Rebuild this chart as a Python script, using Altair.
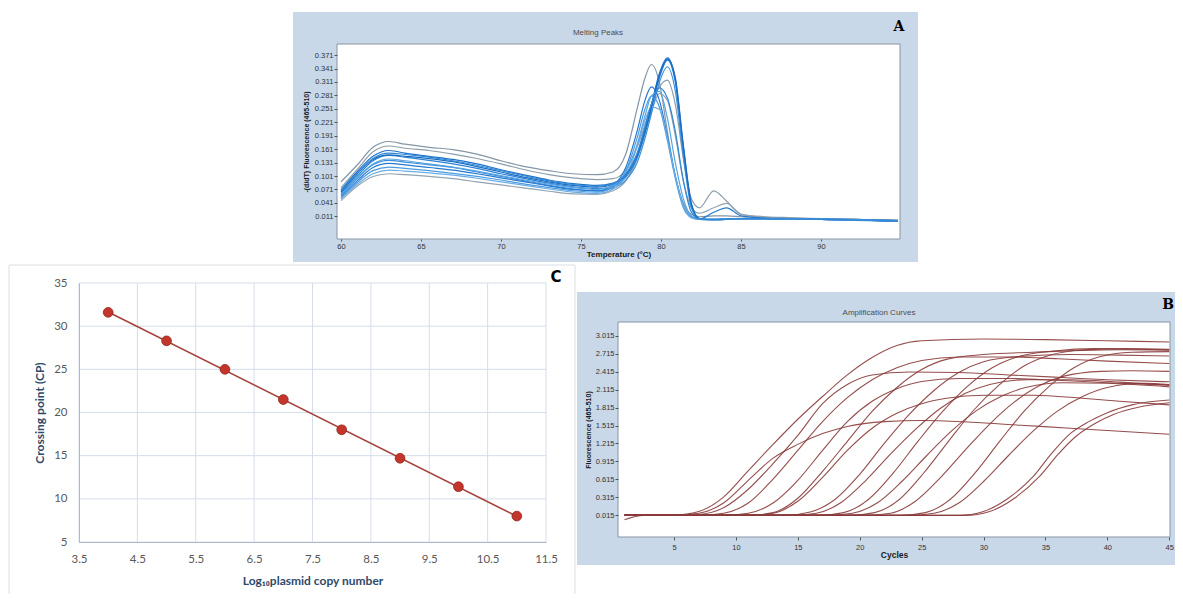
import altair as alt
import pandas as pd

# ---------------- Panel A : melting peaks ----------------
melt_temps = [60, 61, 62, 63, 64, 65.5, 67, 68.5, 70, 71.5, 73, 74.5, 76, 77, 77.8, 78.5,
              79, 79.4, 79.9, 80.4, 80.9, 81.4, 81.9, 82.4, 83.3, 84.1, 85, 86.5, 88, 90, 92, 94.8]
melt_m01 = [0.088, 0.125, 0.165, 0.178, 0.172, 0.165, 0.160, 0.150, 0.135, 0.122, 0.113, 0.106, 0.104, 0.110, 0.150, 0.250, 0.320, 0.350, 0.310, 0.200, 0.100, 0.040, 0.015, 0.010, 0.012, 0.012, 0.010, 0.008, 0.006, 0.005, 0.004, 0.002]
melt_m02 = [0.075, 0.115, 0.155, 0.168, 0.163, 0.158, 0.150, 0.140, 0.128, 0.115, 0.104, 0.097, 0.093, 0.095, 0.115, 0.165, 0.215, 0.260, 0.300, 0.315, 0.260, 0.140, 0.050, 0.030, 0.068, 0.045, 0.015, 0.010, 0.008, 0.006, 0.004, 0.002]
melt_m03 = [0.046, 0.078, 0.100, 0.106, 0.104, 0.100, 0.095, 0.088, 0.081, 0.074, 0.067, 0.061, 0.060, 0.068, 0.090, 0.140, 0.200, 0.245, 0.285, 0.270, 0.190, 0.090, 0.030, 0.018, 0.030, 0.040, 0.016, 0.009, 0.007, 0.005, 0.004, 0.002]
melt_m04 = [0.070, 0.110, 0.145, 0.158, 0.152, 0.145, 0.138, 0.128, 0.115, 0.103, 0.092, 0.084, 0.080, 0.085, 0.105, 0.150, 0.205, 0.260, 0.330, 0.365, 0.320, 0.170, 0.040, 0.006, 0.004, 0.005, 0.006, 0.006, 0.005, 0.004, 0.003, 0.000]
melt_m05 = [0.062, 0.100, 0.135, 0.147, 0.143, 0.136, 0.128, 0.118, 0.106, 0.095, 0.085, 0.077, 0.073, 0.078, 0.098, 0.140, 0.195, 0.250, 0.320, 0.360, 0.310, 0.160, 0.035, 0.005, 0.003, 0.004, 0.006, 0.006, 0.005, 0.004, 0.003, 0.000]
melt_m06 = [0.058, 0.095, 0.126, 0.136, 0.132, 0.126, 0.120, 0.110, 0.100, 0.090, 0.080, 0.072, 0.068, 0.074, 0.092, 0.130, 0.185, 0.240, 0.310, 0.345, 0.290, 0.145, 0.030, 0.004, 0.003, 0.004, 0.005, 0.005, 0.005, 0.004, 0.002, 0.000]
melt_m07 = [0.055, 0.090, 0.120, 0.129, 0.126, 0.120, 0.114, 0.106, 0.097, 0.088, 0.079, 0.071, 0.068, 0.080, 0.120, 0.200, 0.270, 0.300, 0.270, 0.190, 0.100, 0.035, 0.010, 0.005, 0.020, 0.030, 0.012, 0.007, 0.006, 0.005, 0.004, 0.002]
melt_m08 = [0.052, 0.086, 0.113, 0.121, 0.118, 0.113, 0.107, 0.100, 0.092, 0.083, 0.075, 0.068, 0.065, 0.076, 0.112, 0.185, 0.250, 0.280, 0.255, 0.180, 0.095, 0.030, 0.008, 0.004, 0.003, 0.004, 0.006, 0.006, 0.005, 0.004, 0.003, 0.001]
melt_m09 = [0.050, 0.082, 0.106, 0.114, 0.112, 0.108, 0.103, 0.096, 0.088, 0.080, 0.072, 0.065, 0.062, 0.072, 0.100, 0.165, 0.225, 0.255, 0.250, 0.185, 0.100, 0.035, 0.008, 0.004, 0.003, 0.004, 0.006, 0.006, 0.005, 0.004, 0.003, 0.001]
melt_m10 = [0.065, 0.105, 0.138, 0.148, 0.145, 0.140, 0.133, 0.122, 0.110, 0.098, 0.088, 0.080, 0.076, 0.082, 0.102, 0.145, 0.200, 0.255, 0.325, 0.362, 0.315, 0.165, 0.038, 0.006, 0.004, 0.005, 0.006, 0.006, 0.005, 0.004, 0.003, 0.000]
melt_m11 = [0.060, 0.096, 0.128, 0.139, 0.135, 0.128, 0.121, 0.112, 0.102, 0.092, 0.083, 0.075, 0.071, 0.080, 0.110, 0.170, 0.235, 0.280, 0.290, 0.230, 0.130, 0.050, 0.012, 0.005, 0.004, 0.004, 0.006, 0.006, 0.005, 0.004, 0.003, 0.001]
melt_m12 = [0.068, 0.106, 0.140, 0.152, 0.149, 0.143, 0.135, 0.125, 0.113, 0.101, 0.090, 0.082, 0.078, 0.084, 0.105, 0.150, 0.210, 0.262, 0.298, 0.275, 0.200, 0.090, 0.020, 0.005, 0.004, 0.004, 0.006, 0.006, 0.005, 0.004, 0.003, 0.001]
melt_series = [melt_m01, melt_m02, melt_m03, melt_m04, melt_m05, melt_m06,
               melt_m07, melt_m08, melt_m09, melt_m10, melt_m11, melt_m12]
melt_colors = ["#8396A8", "#8C9DAC", "#93A3B1", "#1C72CA", "#2A82D6", "#3A8EDB",
               "#2479D0", "#4C9BE0", "#6AAEE6", "#1A6CC2", "#58A3E2", "#3088D6"]
melt_x_ticks = [60, 65, 70, 75, 80, 85, 90]
melt_y_ticks = [0.011, 0.041, 0.071, 0.101, 0.131, 0.161, 0.191, 0.221, 0.251, 0.281, 0.311, 0.341, 0.371]

# ---------------- Panel B : amplification curves ----------------
amp_cycles = [
    [1, 5, 7, 9, 11, 13, 15, 17, 19, 21, 23, 25, 30, 35, 40, 45],
    [1, 5, 7, 9, 11, 13, 15, 17, 19, 22, 25, 29, 33, 37, 41, 45],
    [1, 5, 7, 9, 11, 13, 15, 17, 19, 21, 24, 28, 32, 36, 40, 45],
    [1, 7, 9, 11, 13, 15, 17, 19, 21, 23, 25, 28, 32, 36, 40, 45],
    [1, 9, 11, 13, 15, 17, 19, 21, 23, 25, 28, 32, 36, 40, 45],
    [1, 11, 13, 15, 17, 19, 21, 23, 25, 27, 30, 34, 38, 41, 45],
    [1, 11, 13, 15, 17, 19, 21, 23, 25, 27, 30, 34, 38, 41, 45],
    [1, 14, 16, 18, 20, 22, 24, 26, 28, 30, 33, 37, 41, 45],
    [1, 14.5, 16.5, 18.5, 20.5, 22.5, 24.5, 26.5, 28.5, 30.5, 33.5, 37, 41, 45],
    [1, 16.7, 18.7, 20.7, 22.7, 24.7, 26.7, 28.7, 30.7, 32.7, 35.7, 39, 42, 45],
    [1, 17.4, 19.4, 21.4, 23.4, 25.4, 27.4, 29.4, 31.4, 33.4, 36.4, 40, 45],
    [1, 19.2, 21.2, 23.2, 25.2, 27.2, 29.2, 31.2, 33.2, 35.2, 38.2, 41.5, 45],
    [1, 20.5, 22.5, 24.5, 26.5, 28.5, 30.5, 32.5, 34.5, 36.5, 39.5, 42, 45],
    [1, 23.3, 25.3, 27.3, 29.3, 31.3, 33.3, 35.3, 37.3, 39.3, 42, 45],
    [1, 24, 26, 28, 30, 32, 34, 36, 38, 40, 43, 45],
    [1, 28, 30, 32, 34, 35.5, 37, 38.5, 40, 42, 45],
    [1, 2.5, 28.5, 30.5, 32.5, 34.5, 36, 37.5, 39, 40.5, 42.5, 45],
]
amp_values = [
    [0.015, 0.02, 0.08, 0.32, 0.76, 1.2, 1.62, 2.0, 2.36, 2.65, 2.85, 2.93, 2.96, 2.95, 2.93, 2.91],
    [0.015, 0.02, 0.05, 0.22, 0.6, 0.97, 1.2, 1.38, 1.5, 1.58, 1.6, 1.57, 1.52, 1.47, 1.42, 1.37],
    [0.015, 0.015, 0.03, 0.14, 0.45, 0.88, 1.35, 1.88, 2.2, 2.36, 2.41, 2.4, 2.36, 2.32, 2.28, 2.245],
    [0.015, 0.015, 0.05, 0.22, 0.62, 1.1, 1.58, 1.98, 2.28, 2.48, 2.6, 2.66, 2.66, 2.63, 2.59, 2.55],
    [0.015, 0.015, 0.05, 0.22, 0.6, 1.1, 1.58, 1.92, 2.13, 2.25, 2.3, 2.3, 2.27, 2.23, 2.19],
    [0.015, 0.015, 0.06, 0.3, 0.75, 1.25, 1.75, 2.15, 2.45, 2.62, 2.7, 2.74, 2.77, 2.78, 2.775],
    [0.015, 0.015, 0.05, 0.25, 0.65, 1.1, 1.47, 1.72, 1.88, 1.97, 2.02, 2.02, 1.97, 1.92, 1.86],
    [0.015, 0.015, 0.07, 0.28, 0.7, 1.22, 1.7, 2.1, 2.4, 2.58, 2.67, 2.7, 2.69, 2.675],
    [0.015, 0.015, 0.05, 0.23, 0.6, 1.04, 1.45, 1.8, 2.05, 2.2, 2.28, 2.28, 2.24, 2.19],
    [0.015, 0.015, 0.06, 0.28, 0.72, 1.25, 1.75, 2.17, 2.48, 2.66, 2.76, 2.8, 2.79, 2.78],
    [0.015, 0.015, 0.05, 0.22, 0.58, 1.01, 1.42, 1.76, 2.0, 2.15, 2.23, 2.22, 2.16],
    [0.015, 0.015, 0.06, 0.28, 0.73, 1.26, 1.77, 2.18, 2.5, 2.68, 2.78, 2.8, 2.79],
    [0.015, 0.015, 0.05, 0.25, 0.64, 1.1, 1.54, 1.91, 2.18, 2.34, 2.42, 2.43, 2.42],
    [0.015, 0.015, 0.06, 0.28, 0.72, 1.25, 1.76, 2.17, 2.48, 2.66, 2.74, 2.75],
    [0.015, 0.015, 0.05, 0.22, 0.58, 1.01, 1.42, 1.76, 2.0, 2.15, 2.22, 2.2],
    [0.015, 0.015, 0.08, 0.3, 0.66, 1.05, 1.38, 1.58, 1.73, 1.86, 1.94],
    [-0.06, 0.015, 0.015, 0.08, 0.3, 0.66, 1.03, 1.34, 1.55, 1.7, 1.82, 1.895],
]
amp_x_ticks = [5, 10, 15, 20, 25, 30, 35, 40, 45]
amp_y_ticks = [0.015, 0.315, 0.615, 0.915, 1.215, 1.515, 1.815, 2.115, 2.415, 2.715, 3.015]

# ---------------- Panel C : standard curve ----------------
log_copies = [4, 5, 6, 7, 8, 9, 10, 11]
crossing_points = [31.6, 28.3, 25.0, 21.5, 18.0, 14.7, 11.4, 8.0]
std_x_ticks = [3.5, 4.5, 5.5, 6.5, 7.5, 8.5, 9.5, 10.5, 11.5]
std_y_ticks = [5, 10, 15, 20, 25, 30, 35]

# ---------------- tables ----------------
melt_rows = []
for i, s in enumerate(melt_series):
    for t, v in zip(melt_temps, s):
        melt_rows.append({"curve": f"m{i+1:02d}", "temp": t, "value": v})
melt_df = pd.DataFrame(melt_rows)
melt_names = [f"m{i+1:02d}" for i in range(len(melt_series))]

amp_rows = []
for i, (cs, vs) in enumerate(zip(amp_cycles, amp_values)):
    for c, v in zip(cs, vs):
        amp_rows.append({"curve": f"a{i+1:02d}", "cycle": c, "fluor": v})
amp_df = pd.DataFrame(amp_rows)

std_df = pd.DataFrame({"logc": log_copies, "cp": crossing_points})
vgrid_df = pd.DataFrame({"logc": std_x_ticks, "cp": [std_y_ticks[0]] * len(std_x_ticks),
                         "cp2": [std_y_ticks[-1]] * len(std_x_ticks)})
hgrid_df = pd.DataFrame({"cp": std_y_ticks, "logc": [std_x_ticks[0]] * len(std_y_ticks),
                         "logc2": [std_x_ticks[-1]] * len(std_y_ticks)})

ONE = pd.DataFrame({"k": [0]})
SW = "Liberation Sans"
FRAME = "#C8D8E9"
W, H = 1167, 586   # whole canvas; panels are placed through their scale ranges


def box(x0, x1, y0, y1, fill, stroke=None):
    kw = dict(fill=fill)
    if stroke:
        kw.update(stroke=stroke, strokeWidth=1)
    return alt.Chart(ONE).mark_rect(**kw).encode(
        x=alt.value(x0), x2=alt.value(x1), y=alt.value(y0), y2=alt.value(y1))


def label(txt, x, y, size, font, color="#000000", weight="normal", align="center"):
    return alt.Chart(ONE).mark_text(
        text=txt, font=font, fontSize=size, fontWeight=weight, color=color,
        align=align, baseline="middle").encode(x=alt.value(x), y=alt.value(y))


def rule(x0, x1, y0, y1, color):
    return alt.Chart(ONE).mark_rule(color=color, strokeWidth=1).encode(
        x=alt.value(x0), x2=alt.value(x1), y=alt.value(y0), y2=alt.value(y1))


def sw_axis(orient, offset, values, fmt, title, tsize, tpad, lpad, tick):
    return alt.Axis(orient=orient, offset=offset, values=values, format=fmt, title=title,
                    grid=False, domain=False, ticks=True, tickSize=tick, tickColor="#555555",
                    labelFont=SW, labelFontSize=7.5, labelColor="#333333", labelPadding=lpad,
                    labelFlush=False, labelOverlap=False, titleFont=SW,
                    titleFontSize=tsize, titleFontWeight="bold", titleColor="#1A1A1A",
                    titlePadding=tpad, zindex=1)


# ---------------- Panel A (plot area x 329..892, y 36..231) ----------------
linesA = alt.Chart(melt_df).mark_line(strokeWidth=1.2, interpolate="monotone").encode(
    x=alt.X("temp:Q", scale=alt.Scale(domain=[59.75, 94.94], range=[329, 892], nice=False, zero=False),
            axis=sw_axis("bottom", 231 - H, melt_x_ticks, "d", "Temperature (°C)", 8, 1, 1, 2)),
    y=alt.Y("value:Q", scale=alt.Scale(domain=[-0.0397, 0.3958], range=[231, 36], nice=False, zero=False),
            axis=sw_axis("left", -329, melt_y_ticks, ".3f", "-(d/dT) Fluorescence (465-510)", 7, 5, 1, 3)),
    color=alt.Color("curve:N", scale=alt.Scale(domain=melt_names, range=melt_colors), legend=None),
)

# ---------------- Panel B (plot area x 610..1162, y 314..529) ----------------
linesB = alt.Chart(amp_df).mark_line(strokeWidth=1.1, interpolate="monotone",
                                     color="#8A3A3A", opacity=0.9).encode(
    x=alt.X("cycle:Q", scale=alt.Scale(domain=[0.477, 45.06], range=[610, 1162], nice=False, zero=False),
            axis=sw_axis("bottom", 529 - H, amp_x_ticks, "d", "Cycles", 8.5, 0, 3, 3)),
    y=alt.Y("fluor:Q", scale=alt.Scale(domain=[-0.347, 3.244], range=[529, 314], nice=False, zero=False),
            axis=sw_axis("left", -610, amp_y_ticks, ".3f", "Fluorescence (465-510)", 7, 4, 1, 3)),
    detail="curve:N",
)

# ---------------- Panel C (plot area x 71..538, y 275..534) ----------------
FONT_C = "Lato"
xC = alt.X("logc:Q", scale=alt.Scale(domain=[3.5, 11.5], range=[71, 538], nice=False, zero=False),
           axis=alt.Axis(orient="bottom", offset=534 - H, values=std_x_ticks, format=".1f",
                         title="Log₁₀plasmid copy number", grid=False, domain=True,
                         domainColor="#AEB9C9", ticks=False, tickSize=0, labelFont=FONT_C,
                         labelFontSize=11.5, labelColor="#595959", labelPadding=11,
                         labelFlush=False, labelOverlap=False, titleFont=FONT_C, titleFontSize=12,
                         titleFontWeight="bold", titleColor="#2E4A6A", titlePadding=11, zindex=1))
yC = alt.Y("cp:Q", scale=alt.Scale(domain=[5, 35], range=[534, 275], nice=False, zero=False),
           axis=alt.Axis(orient="left", offset=-71, values=std_y_ticks, format="d",
                         title="Crossing point (CP)", grid=False, domain=True,
                         domainColor="#AEB9C9", ticks=False, tickSize=0, labelFont=FONT_C,
                         labelFontSize=11.5, labelColor="#595959", labelPadding=12,
                         labelFlush=False, labelOverlap=False, titleFont=FONT_C, titleFontSize=12,
                         titleFontWeight="bold", titleColor="#2E4A6A", titlePadding=7, zindex=1))
vgridC = alt.Chart(vgrid_df).mark_rule(color="#D5DDEA", strokeWidth=1).encode(
    x=xC, y=yC, y2="cp2:Q")
hgridC = alt.Chart(hgrid_df).mark_rule(color="#D5DDEA", strokeWidth=1).encode(
    x=xC, x2="logc2:Q", y=yC)
lineC = alt.Chart(std_df).transform_regression("logc", "cp", extent=[4, 11]).mark_line(
    color="#A5443C", strokeWidth=1.6).encode(x=xC, y=yC)
ptsC = alt.Chart(std_df).mark_circle(size=95, color="#C4362B", opacity=1,
                                     stroke="#8E251C", strokeWidth=0.8).encode(x=xC, y=yC)
panelC = alt.layer(vgridC, hgridC, lineC, ptsC)

chart = alt.layer(
    # panel frames and texts
    box(285, 910, 4, 254, FRAME),
    box(329, 892, 36, 231, "white", stroke="#8795A3"),
    label("Melting Peaks", 590, 25, 8, SW, "#4D4D4D"),
    label("A", 891, 19, 14, "DejaVu Serif", "#000000", "bold"),
    box(569, 1167, 284, 557, FRAME),
    box(610, 1162, 314, 529, "white", stroke="#8795A3"),
    label("Amplification Curves", 871, 305, 8, SW, "#4D4D4D"),
    label("B", 1166, 297, 14, "DejaVu Serif", "#000000", "bold", align="right"),
    rule(1, 567, 257, 257, "#D9DEE5"),
    rule(1, 1, 257, 586, "#D9DEE5"),
    rule(567, 567, 257, 586, "#D9DEE5"),
    label("C", 548, 269, 15, "DejaVu Sans", "#000000", "bold"),
    # data
    linesA,
    linesB,
    panelC,
).resolve_scale(x="independent", y="independent", color="independent").resolve_axis(
    x="independent", y="independent"
).properties(width=W, height=H, padding=0, background="white").configure_view(stroke="transparent")

chart.save("out.html", embed_options={"renderer": "svg", "actions": False})
